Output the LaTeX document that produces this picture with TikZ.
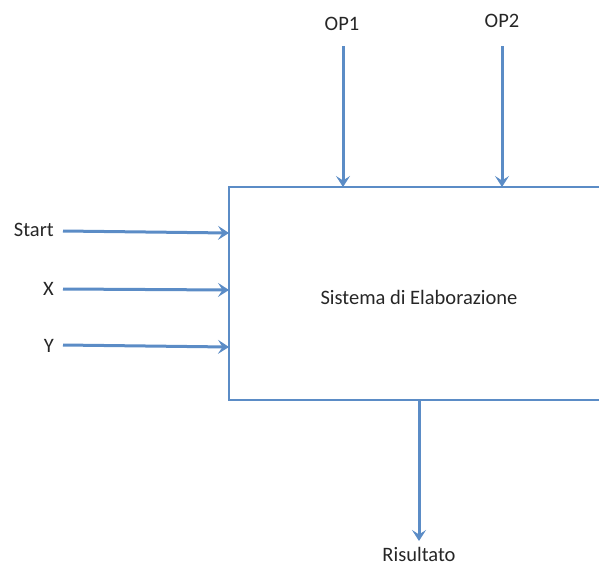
\documentclass[tikz,border=0pt]{standalone}
\usepackage{fontspec}
\setmainfont{Carlito}
\usetikzlibrary{arrows.meta}
\definecolor{ofblue}{HTML}{5B8CC6}
\definecolor{txt}{HTML}{262626}
\tikzset{
  conn/.style={draw=ofblue, line width=3pt, -{Stealth[length=11pt,width=14pt,inset=4.5pt]}},
  lbl/.style={text=txt, font=\fontsize{20.5}{23}\selectfont, inner sep=0pt},
}
\begin{document}
\begin{tikzpicture}[x=1pt,y=-1pt]
\useasboundingbox (0,0) rectangle (599,565);
\draw[draw=ofblue, line width=1.8pt] (640,187) -- (229,187) -- (229,400) -- (640,400);
\node[lbl] (sys) at (419,297) {Sistema di Elaborazione};
\node[lbl, anchor=east] (start) at (54,230) {Start};
\node[lbl, anchor=east] (x) at (54,289) {X};
\node[lbl, anchor=east] (y) at (54,346) {Y};
\node[lbl] (op1) at (342,24) {OP1};
\node[lbl] (op2) at (502,21) {OP2};
\node[lbl] (ris) at (419,554) {Risultato};
\coordinate (sIn) at (229,233);
\coordinate (xIn) at (229,290);
\coordinate (yIn) at (229,347);
\coordinate (op1In) at (343,187);
\coordinate (op2In) at (502,187);
\coordinate (rOut) at (419,400);
\coordinate (rEnd) at (419,541);
\draw[conn] (63,231) -- (sIn);
\draw[conn] (63,289) -- (xIn);
\draw[conn] (63,345) -- (yIn);
\draw[conn] (343,46) -- (op1In);
\draw[conn] (502,46) -- (op2In);
\draw[conn] (rOut) -- (rEnd);
\end{tikzpicture}
\end{document}
